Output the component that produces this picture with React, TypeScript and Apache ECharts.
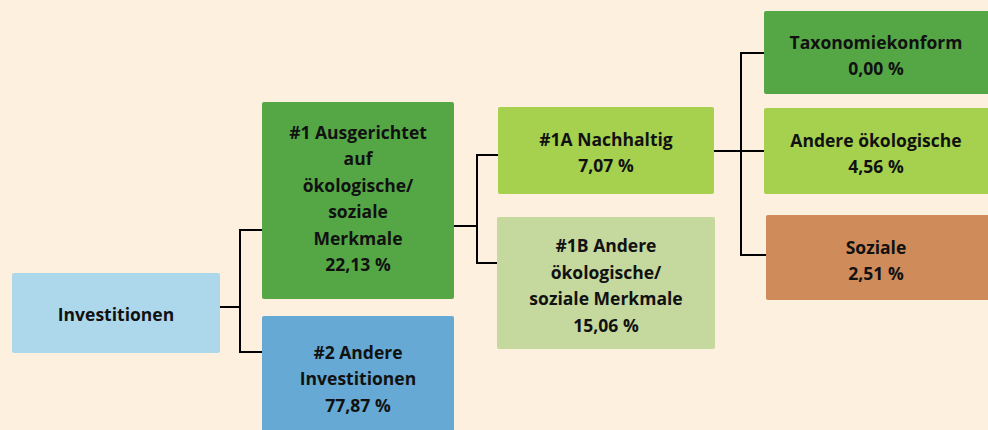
import React, { useEffect, useRef } from "react";
import * as echarts from "echarts";

// Node data
const nodeTitles = [
  "Investitionen",
  "#1 Ausgerichtet\nauf\nökologische/\nsoziale\nMerkmale",
  "#2 Andere\nInvestitionen",
  "#1A Nachhaltig",
  "#1B Andere\nökologische/\nsoziale Merkmale",
  "Taxonomiekonform",
  "Andere ökologische",
  "Soziale",
];
const nodeValues: (number | null)[] = [null, 22.13, 77.87, 7.07, 15.06, 0.0, 4.56, 2.51];
// parent index of each node (-1 = root)
const nodeParents = [-1, 0, 0, 1, 1, 3, 3, 3];

// Layout (positions, sizes, styles)
const boxes = [
  { x: 12, y: 273, w: 208, h: 80, color: "#ADD8EC" },
  { x: 262, y: 102, w: 192, h: 197, color: "#55A746" },
  { x: 262, y: 316, w: 192, h: 130, color: "#65A9D4" },
  { x: 498, y: 107, w: 216, h: 87, color: "#A6D14E" },
  { x: 497, y: 217, w: 218, h: 132, color: "#C5D89E" },
  { x: 764, y: 11, w: 230, h: 83, color: "#55A746" },
  { x: 764, y: 108, w: 230, h: 86, color: "#A6D14E" },
  { x: 766, y: 215, w: 228, h: 85, color: "#D08B5B" },
];
const textCenters = [
  [116, 314],
  [358, 198],
  [358, 378],
  [606, 152],
  [606, 285],
  [876, 55],
  [876, 153],
  [876, 260],
];
// connector: for each parent, exit y, branch x, and child entry y's
const connectors: Record<number, { exitY: number; branchX: number; childY: number[] }> = {
  0: { exitY: 307, branchX: 240, childY: [230, 352] },
  1: { exitY: 226, branchX: 477, childY: [155, 263] },
  3: { exitY: 151, branchX: 741, childY: [53, 151, 255] },
};

const fmt = (v: number) => v.toFixed(2).replace(".", ",") + " %";

export default function App() {
  const ref = useRef<HTMLDivElement>(null);
  useEffect(() => {
    document.body.style.margin = "0";
    const chart = echarts.init(ref.current!, null, { renderer: "svg" });
    const elements: any[] = [];
    const lineStyle = { stroke: "#000", lineWidth: 2 };

    // connectors
    Object.keys(connectors).forEach((k) => {
      const p = Number(k);
      const c = connectors[p];
      const pb = boxes[p];
      const children = nodeParents
        .map((par, i) => (par === p ? i : -1))
        .filter((i) => i >= 0);
      elements.push({
        type: "line",
        shape: { x1: pb.x + pb.w, y1: c.exitY, x2: c.branchX, y2: c.exitY },
        style: lineStyle,
        z: 1,
      });
      const ys = c.childY.concat([c.exitY]);
      elements.push({
        type: "line",
        shape: { x1: c.branchX, y1: Math.min(...ys) - 1, x2: c.branchX, y2: Math.max(...ys) + 1 },
        style: lineStyle,
        z: 1,
      });
      children.forEach((ci, j) => {
        elements.push({
          type: "line",
          shape: { x1: c.branchX, y1: c.childY[j], x2: boxes[ci].x, y2: c.childY[j] },
          style: lineStyle,
          z: 1,
        });
      });
    });

    nodeTitles.forEach((t, i) => {
      const b = boxes[i];
      elements.push({
        type: "rect",
        shape: { x: b.x, y: b.y, width: b.w, height: b.h, r: 2 },
        style: { fill: b.color },
        z: 2,
      });
      const v = nodeValues[i];
      const text = v === null ? t : t + "\n" + fmt(v);
      elements.push({
        type: "text",
        x: textCenters[i][0],
        y: textCenters[i][1],
        style: {
          text,
          fill: "#111",
          font: "bold 17.5px 'Open Sans'",
          lineHeight: 26.5,
          align: "center",
          verticalAlign: "middle",
        },
        z: 3,
      });
    });

    chart.setOption({
      animation: false,
      backgroundColor: "#FEF0DE",
      graphic: { elements },
    });
    return () => chart.dispose();
  }, []);
  return (
    <div
      ref={ref}
      style={{ position: "absolute", left: 0, top: 0, width: 988, height: 430 }}
    />
  );
}
